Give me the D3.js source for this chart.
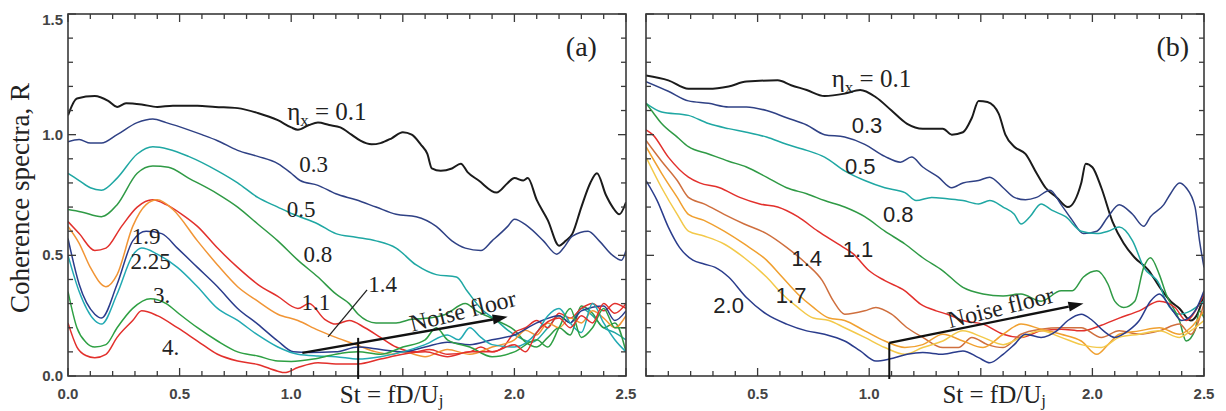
<!DOCTYPE html>
<html>
<head>
<meta charset="utf-8">
<script src="https://cdn.jsdelivr.net/npm/d3@7"></script>
<style>
body { margin: 0; background: #fff; }
</style>
</head>
<body>
<svg id="chart" width="1226" height="411"></svg>
<script>
// tick values and labels
const xMajor = [0, 0.5, 1.0, 1.5, 2.0, 2.5];
const xLabelsA = ['0.0', '0.5', '1.0', '', '2.0', '2.5'];
const xLabelsB = ['', '0.5', '1.0', '', '2.0', '2.5'];
const yMajor = [0, 0.5, 1.0, 1.5];
const yLabels = ['0.0', '0.5', '1.0', '1.5'];

// panel (a) curves, [St, R]
const a01 = [[0,1.08],[0.04,1.15],[0.12,1.16],[0.18,1.14],[0.22,1.115],[0.26,1.13],[0.33,1.125],[0.4,1.115],[0.47,1.12],[0.58,1.12],[0.66,1.115],[0.76,1.11],[0.85,1.09],[0.94,1.06],[1.0,1.03],[1.03,1.02],[1.08,1.04],[1.12,1.05],[1.17,1.04],[1.22,1.03],[1.27,1.0],[1.31,0.975],[1.36,0.96],[1.4,0.965],[1.45,0.985],[1.5,1.01],[1.54,1.0],[1.58,0.96],[1.61,0.92],[1.63,0.86],[1.67,0.85],[1.72,0.86],[1.76,0.88],[1.79,0.845],[1.84,0.81],[1.92,0.76],[1.97,0.8],[2.0,0.82],[2.04,0.81],[2.06,0.82],[2.1,0.73],[2.15,0.645],[2.2,0.54],[2.23,0.56],[2.26,0.59],[2.3,0.7],[2.34,0.8],[2.37,0.84],[2.41,0.75],[2.44,0.7],[2.47,0.67],[2.5,0.72]];
const a03 = [[0,0.97],[0.05,0.98],[0.1,0.965],[0.15,0.965],[0.22,1.0],[0.31,1.05],[0.38,1.065],[0.44,1.05],[0.54,1.02],[0.6,1.0],[0.67,0.975],[0.76,0.935],[0.85,0.91],[0.94,0.88],[1.0,0.84],[1.04,0.81],[1.12,0.79],[1.2,0.755],[1.29,0.73],[1.38,0.7],[1.47,0.67],[1.56,0.66],[1.65,0.62],[1.72,0.56],[1.78,0.53],[1.85,0.52],[1.9,0.56],[1.97,0.62],[2.0,0.65],[2.06,0.62],[2.13,0.56],[2.19,0.505],[2.22,0.53],[2.26,0.58],[2.33,0.6],[2.38,0.56],[2.44,0.5],[2.48,0.48],[2.5,0.52]];
const a05 = [[0,0.84],[0.05,0.81],[0.1,0.78],[0.15,0.77],[0.22,0.82],[0.31,0.92],[0.38,0.95],[0.45,0.94],[0.54,0.91],[0.67,0.85],[0.76,0.8],[0.85,0.74],[0.94,0.7],[1.01,0.67],[1.12,0.63],[1.2,0.59],[1.29,0.575],[1.38,0.56],[1.47,0.53],[1.56,0.46],[1.65,0.42],[1.74,0.41],[1.79,0.35],[1.85,0.28],[1.92,0.23],[1.97,0.19],[2.02,0.16],[2.08,0.14],[2.15,0.2],[2.2,0.25],[2.25,0.22],[2.3,0.28],[2.35,0.25],[2.4,0.2],[2.45,0.18],[2.5,0.15]];
const a08 = [[0,0.69],[0.06,0.68],[0.15,0.66],[0.22,0.71],[0.31,0.84],[0.38,0.87],[0.45,0.865],[0.54,0.82],[0.67,0.755],[0.76,0.7],[0.85,0.63],[0.94,0.56],[1.03,0.48],[1.12,0.41],[1.2,0.34],[1.26,0.3],[1.3,0.256],[1.38,0.22],[1.47,0.22],[1.54,0.235],[1.62,0.24],[1.69,0.255],[1.78,0.3],[1.83,0.27],[1.92,0.23],[2.0,0.19],[2.05,0.14],[2.1,0.12],[2.15,0.16],[2.2,0.2],[2.25,0.17],[2.3,0.29],[2.35,0.26],[2.4,0.2],[2.45,0.22],[2.5,0.1]];
const a11 = [[0,0.64],[0.05,0.59],[0.12,0.52],[0.17,0.53],[0.24,0.62],[0.31,0.7],[0.38,0.73],[0.44,0.71],[0.51,0.67],[0.58,0.62],[0.67,0.53],[0.76,0.45],[0.85,0.38],[0.94,0.33],[1.03,0.28],[1.08,0.3],[1.15,0.235],[1.2,0.215],[1.26,0.23],[1.33,0.2],[1.4,0.16],[1.47,0.12],[1.55,0.1],[1.62,0.11],[1.7,0.09],[1.8,0.1],[1.85,0.12],[1.9,0.1],[1.95,0.12],[2.0,0.18],[2.05,0.2],[2.1,0.23],[2.15,0.2],[2.2,0.26],[2.25,0.24],[2.3,0.28],[2.35,0.3],[2.4,0.27],[2.45,0.3],[2.5,0.28]];
const a14 = [[0,0.62],[0.05,0.55],[0.1,0.45],[0.17,0.37],[0.22,0.42],[0.29,0.62],[0.35,0.71],[0.4,0.73],[0.47,0.69],[0.58,0.56],[0.67,0.46],[0.76,0.37],[0.85,0.31],[0.94,0.256],[1.03,0.23],[1.12,0.19],[1.2,0.16],[1.29,0.13],[1.38,0.1],[1.45,0.09],[1.5,0.1],[1.6,0.08],[1.7,0.11],[1.8,0.09],[1.9,0.12],[2.0,0.15],[2.05,0.19],[2.1,0.17],[2.15,0.22],[2.2,0.2],[2.25,0.24],[2.3,0.22],[2.35,0.27],[2.4,0.24],[2.45,0.2],[2.5,0.25]];
const a19 = [[0,0.57],[0.05,0.38],[0.12,0.256],[0.15,0.24],[0.22,0.38],[0.29,0.56],[0.35,0.6],[0.42,0.59],[0.49,0.53],[0.58,0.45],[0.67,0.37],[0.76,0.28],[0.85,0.215],[0.94,0.145],[1.01,0.1],[1.08,0.097],[1.2,0.1],[1.3,0.12],[1.4,0.11],[1.5,0.1],[1.6,0.12],[1.7,0.14],[1.8,0.13],[1.9,0.15],[2.0,0.17],[2.1,0.22],[2.2,0.25],[2.25,0.22],[2.3,0.27],[2.4,0.29],[2.45,0.23],[2.5,0.27]];
const a225 = [[0,0.5],[0.05,0.35],[0.12,0.23],[0.15,0.215],[0.22,0.34],[0.29,0.5],[0.33,0.53],[0.4,0.505],[0.49,0.45],[0.58,0.37],[0.67,0.28],[0.76,0.23],[0.85,0.17],[0.94,0.12],[1.03,0.09],[1.12,0.083],[1.2,0.08],[1.3,0.07],[1.4,0.08],[1.5,0.1],[1.6,0.13],[1.7,0.17],[1.75,0.15],[1.8,0.2],[1.85,0.16],[1.9,0.13],[2.0,0.12],[2.1,0.18],[2.15,0.25],[2.2,0.28],[2.25,0.22],[2.3,0.18],[2.35,0.3],[2.4,0.22],[2.45,0.15],[2.5,0.1]];
const a3 = [[0,0.35],[0.04,0.2],[0.08,0.14],[0.12,0.12],[0.17,0.13],[0.22,0.2],[0.29,0.28],[0.37,0.32],[0.44,0.3],[0.5,0.256],[0.58,0.2],[0.67,0.145],[0.76,0.1],[0.85,0.083],[0.94,0.062],[1.0,0.06],[1.1,0.07],[1.2,0.09],[1.3,0.1],[1.4,0.09],[1.5,0.12],[1.6,0.15],[1.65,0.2],[1.7,0.15],[1.8,0.12],[1.9,0.08],[2.0,0.1],[2.1,0.15],[2.15,0.12],[2.2,0.2],[2.25,0.28],[2.3,0.16],[2.35,0.2],[2.4,0.28],[2.45,0.2],[2.5,0.2]];
const a4 = [[0,0.22],[0.04,0.12],[0.08,0.085],[0.12,0.076],[0.17,0.09],[0.22,0.16],[0.29,0.23],[0.33,0.27],[0.4,0.25],[0.49,0.2],[0.58,0.145],[0.67,0.09],[0.76,0.062],[0.85,0.048],[0.94,0.02],[0.97,0.014],[1.03,0.035],[1.12,0.055],[1.2,0.05],[1.3,0.05],[1.4,0.07],[1.5,0.09],[1.6,0.1],[1.7,0.08],[1.8,0.1],[1.9,0.1],[2.0,0.13],[2.05,0.1],[2.1,0.18],[2.2,0.24],[2.25,0.2],[2.3,0.25],[2.35,0.22],[2.4,0.3],[2.45,0.26],[2.5,0.3]];

// panel (b) curves, [St, R]
const b01 = [[0,1.245],[0.1,1.225],[0.19,1.19],[0.28,1.19],[0.37,1.2],[0.45,1.22],[0.59,1.225],[0.65,1.205],[0.72,1.185],[0.8,1.16],[0.89,1.17],[0.96,1.185],[1.03,1.155],[1.1,1.1],[1.17,1.045],[1.24,1.025],[1.33,1.025],[1.37,1.0],[1.42,1.01],[1.46,1.07],[1.49,1.14],[1.53,1.135],[1.58,1.087],[1.61,1.0],[1.65,0.95],[1.7,0.92],[1.75,0.84],[1.79,0.78],[1.84,0.74],[1.89,0.7],[1.95,0.8],[1.97,0.88],[2.0,0.865],[2.04,0.78],[2.09,0.64],[2.14,0.55],[2.19,0.49],[2.25,0.44],[2.3,0.37],[2.35,0.31],[2.39,0.28],[2.44,0.23],[2.47,0.256],[2.5,0.34]];
const b03 = [[0,1.22],[0.1,1.18],[0.19,1.14],[0.28,1.13],[0.37,1.115],[0.45,1.115],[0.54,1.1],[0.63,1.07],[0.72,1.04],[0.8,1.0],[0.89,0.99],[0.98,0.96],[1.07,0.91],[1.14,0.886],[1.19,0.907],[1.24,0.866],[1.31,0.824],[1.37,0.78],[1.42,0.8],[1.49,0.81],[1.54,0.824],[1.6,0.78],[1.65,0.74],[1.7,0.73],[1.75,0.74],[1.81,0.77],[1.86,0.71],[1.91,0.645],[1.96,0.59],[2.02,0.6],[2.07,0.66],[2.12,0.71],[2.18,0.67],[2.23,0.62],[2.26,0.66],[2.32,0.71],[2.35,0.755],[2.39,0.8],[2.42,0.78],[2.46,0.7],[2.48,0.56],[2.5,0.45]];
const b05 = [[0,1.13],[0.07,1.094],[0.19,1.08],[0.28,1.046],[0.37,1.025],[0.45,1.01],[0.54,0.99],[0.63,0.96],[0.72,0.935],[0.8,0.907],[0.89,0.85],[0.98,0.81],[1.07,0.78],[1.16,0.76],[1.21,0.727],[1.28,0.74],[1.35,0.734],[1.42,0.727],[1.49,0.713],[1.54,0.727],[1.6,0.7],[1.65,0.67],[1.68,0.63],[1.72,0.66],[1.77,0.713],[1.82,0.686],[1.88,0.66],[1.95,0.6],[2.02,0.59],[2.07,0.6],[2.12,0.617],[2.18,0.56],[2.23,0.45],[2.3,0.38],[2.33,0.31],[2.39,0.256],[2.44,0.27],[2.5,0.31]];
const b08 = [[0,1.13],[0.03,1.094],[0.07,1.046],[0.14,0.99],[0.19,0.95],[0.28,0.92],[0.37,0.89],[0.45,0.866],[0.54,0.824],[0.63,0.78],[0.72,0.755],[0.8,0.727],[0.89,0.7],[0.98,0.66],[1.07,0.6],[1.16,0.547],[1.24,0.49],[1.33,0.436],[1.42,0.367],[1.51,0.34],[1.6,0.332],[1.68,0.34],[1.77,0.31],[1.86,0.353],[1.91,0.353],[1.96,0.41],[2.02,0.436],[2.07,0.38],[2.1,0.31],[2.14,0.284],[2.19,0.31],[2.23,0.45],[2.26,0.49],[2.3,0.42],[2.33,0.34],[2.39,0.23],[2.42,0.145],[2.46,0.19],[2.48,0.27],[2.5,0.24]];
const b11 = [[0,1.02],[0.03,1.0],[0.1,0.907],[0.19,0.824],[0.24,0.8],[0.33,0.78],[0.42,0.74],[0.51,0.713],[0.59,0.7],[0.68,0.66],[0.77,0.6],[0.86,0.547],[0.93,0.505],[1.0,0.436],[1.07,0.395],[1.16,0.353],[1.23,0.298],[1.3,0.27],[1.35,0.256],[1.42,0.23],[1.51,0.215],[1.6,0.173],[1.68,0.16],[1.77,0.187],[1.86,0.194],[1.95,0.187],[2.04,0.21],[2.12,0.24],[2.21,0.27],[2.3,0.31],[2.37,0.284],[2.42,0.23],[2.47,0.284],[2.5,0.34]];
const b14 = [[0,0.976],[0.07,0.89],[0.14,0.81],[0.19,0.74],[0.26,0.713],[0.35,0.67],[0.44,0.63],[0.54,0.59],[0.63,0.533],[0.72,0.464],[0.79,0.395],[0.84,0.31],[0.89,0.256],[0.98,0.27],[1.03,0.284],[1.1,0.256],[1.17,0.2],[1.24,0.16],[1.33,0.118],[1.4,0.118],[1.46,0.16],[1.53,0.13],[1.6,0.118],[1.68,0.173],[1.77,0.194],[1.86,0.2],[1.95,0.2],[2.04,0.16],[2.12,0.187],[2.21,0.173],[2.3,0.187],[2.39,0.215],[2.44,0.173],[2.5,0.3]];
const b17 = [[0,0.95],[0.07,0.84],[0.14,0.74],[0.19,0.67],[0.26,0.645],[0.35,0.6],[0.44,0.547],[0.54,0.48],[0.61,0.41],[0.68,0.34],[0.75,0.284],[0.82,0.24],[0.89,0.23],[0.98,0.187],[1.07,0.145],[1.16,0.118],[1.24,0.13],[1.33,0.173],[1.42,0.145],[1.51,0.118],[1.6,0.173],[1.68,0.215],[1.77,0.194],[1.86,0.173],[1.95,0.145],[2.02,0.09],[2.07,0.13],[2.12,0.173],[2.21,0.187],[2.3,0.2],[2.39,0.173],[2.44,0.2],[2.5,0.27]];
const b18 = [[0,0.907],[0.07,0.78],[0.14,0.67],[0.19,0.6],[0.26,0.58],[0.35,0.547],[0.44,0.49],[0.54,0.41],[0.61,0.34],[0.68,0.284],[0.75,0.24],[0.82,0.23],[0.89,0.2],[0.98,0.16],[1.07,0.118],[1.16,0.09],[1.24,0.118],[1.33,0.145],[1.42,0.187],[1.51,0.16],[1.6,0.13],[1.68,0.16],[1.77,0.187],[1.86,0.16],[1.95,0.13],[2.04,0.118],[2.12,0.16],[2.21,0.173],[2.3,0.187],[2.39,0.16],[2.44,0.187],[2.5,0.23]];
const b20 = [[0,0.81],[0.05,0.727],[0.1,0.617],[0.15,0.533],[0.21,0.48],[0.26,0.464],[0.31,0.45],[0.37,0.41],[0.45,0.325],[0.54,0.256],[0.63,0.215],[0.72,0.187],[0.8,0.173],[0.89,0.145],[0.96,0.104],[1.03,0.062],[1.09,0.07],[1.17,0.09],[1.24,0.097],[1.33,0.09],[1.42,0.104],[1.49,0.076],[1.54,0.055],[1.6,0.09],[1.65,0.13],[1.7,0.173],[1.77,0.16],[1.84,0.187],[1.89,0.23],[1.95,0.256],[2.0,0.23],[2.05,0.187],[2.1,0.16],[2.16,0.187],[2.21,0.23],[2.26,0.31],[2.3,0.34],[2.35,0.284],[2.4,0.23],[2.46,0.27],[2.5,0.353]];

const seriesA = [
  {d: a01, c: '#1b1b1b', w: 2},
  {d: a03, c: '#2f4185', w: 1.5},
  {d: a05, c: '#1fa7a3', w: 1.5},
  {d: a08, c: '#2f9a45', w: 1.5},
  {d: a11, c: '#e2302c', w: 1.5},
  {d: a14, c: '#f19535', w: 1.5},
  {d: a19, c: '#2a3c8c', w: 1.5},
  {d: a225, c: '#22aab3', w: 1.5},
  {d: a3, c: '#2ea043', w: 1.5},
  {d: a4, c: '#e2302c', w: 1.5}
];
const seriesB = [
  {d: b01, c: '#1b1b1b', w: 2},
  {d: b03, c: '#2f4185', w: 1.5},
  {d: b05, c: '#1fa7a3', w: 1.5},
  {d: b08, c: '#2f9a45', w: 1.5},
  {d: b11, c: '#e2302c', w: 1.5},
  {d: b14, c: '#cf6f3e', w: 1.5},
  {d: b17, c: '#f0a030', w: 1.5},
  {d: b18, c: '#f3c94a', w: 1.5},
  {d: b20, c: '#2a3c8c', w: 1.5}
];

// curve labels: text, St, R
const labelsA = [
  ['0.3', 1.10, 0.88], ['0.5', 1.045, 0.69], ['0.8', 1.12, 0.505], ['1.1', 1.11, 0.305],
  ['1.4', 1.41, 0.38], ['1.9', 0.35, 0.58], ['2.25', 0.37, 0.475], ['3.', 0.42, 0.335], ['4.', 0.46, 0.12]
];
const labelsB = [
  ['0.3', 0.99, 1.04], ['0.5', 0.96, 0.87], ['0.8', 1.13, 0.67], ['1.1', 0.95, 0.525],
  ['1.4', 0.72, 0.49], ['1.7', 0.65, 0.335], ['2.0', 0.37, 0.295]
];
const etaA = [1.16, 1.094];
const etaB = [1.01, 1.23];

// noise floor annotation: arrow start, arrow end, stem top, text centre
const noiseA = {from: [1.05, 0.096], to: [1.97, 0.245], stem: [1.30, 0.158], text: [1.77, 0.266]};
const noiseB = {from: [1.09, 0.137], to: [1.96, 0.30], stem: [1.09, 0.137], text: [1.59, 0.28]};
const leaderA = [[1.34, 0.357], [1.165, 0.162]];

const svg = d3.select('#chart');
const yTop = 14, yBot = 376;
const serif = "'Liberation Serif', 'Times New Roman', serif";
const sans = "'Liberation Sans', Arial, sans-serif";

const panels = [
  {x0: 68, x1: 626, series: seriesA, labels: labelsA, labFont: serif, labSize: 23, eta: etaA,
   xt: xLabelsA, tag: '(a)', tagSt: 2.3, noise: noiseA, leader: leaderA, stTitle: 1.45, id: 'a'},
  {x0: 646, x1: 1204, series: seriesB, labels: labelsB, labFont: sans, labSize: 22, eta: etaB,
   xt: xLabelsB, tag: '(b)', tagSt: 2.36, noise: noiseB, leader: null, stTitle: 1.56, id: 'b'}
];

const y = d3.scaleLinear().domain([0, 1.5]).range([yBot, yTop]);

panels.forEach(p => {
  const x = d3.scaleLinear().domain([0, 2.5]).range([p.x0, p.x1]);
  const g = svg.append('g');

  g.append('clipPath').attr('id', 'clip' + p.id)
    .append('rect').attr('x', p.x0).attr('y', yTop).attr('width', p.x1 - p.x0).attr('height', yBot - yTop);

  const line = d3.line().x(d => x(d[0])).y(d => y(d[1])).curve(d3.curveMonotoneX);
  g.append('g').attr('clip-path', `url(#clip${p.id})`)
    .selectAll('path').data(p.series).join('path')
    .attr('d', s => line(s.d)).attr('fill', 'none')
    .attr('stroke', s => s.c).attr('stroke-width', s => s.w).attr('stroke-linejoin', 'round');

  // frame and ticks
  g.append('rect').attr('x', p.x0).attr('y', yTop).attr('width', p.x1 - p.x0).attr('height', yBot - yTop)
    .attr('fill', 'none').attr('stroke', '#3a3a3a').attr('stroke-width', 1.6);
  const xt = d3.range(0, 26).map(i => i / 10);
  const yt = d3.range(0, 16).map(i => i / 10);
  const isMajor = v => Math.abs(v * 2 - Math.round(v * 2)) < 1e-6;
  const tk = g.append('g').attr('stroke', '#3a3a3a').attr('stroke-width', 1.3);
  xt.forEach(v => {
    const len = isMajor(v) ? 8 : 5;
    tk.append('line').attr('x1', x(v)).attr('x2', x(v)).attr('y1', yBot).attr('y2', yBot - len);
    tk.append('line').attr('x1', x(v)).attr('x2', x(v)).attr('y1', yTop).attr('y2', yTop + len);
  });
  yt.forEach(v => {
    const len = isMajor(v) ? 8 : 5;
    tk.append('line').attr('x1', p.x0).attr('x2', p.x0 + len).attr('y1', y(v)).attr('y2', y(v));
    tk.append('line').attr('x1', p.x1).attr('x2', p.x1 - len).attr('y1', y(v)).attr('y2', y(v));
  });

  // x tick labels
  g.append('g').selectAll('text').data(xMajor).join('text')
    .attr('x', v => x(v)).attr('y', 399).attr('text-anchor', 'middle')
    .attr('font-family', sans).attr('font-size', 15).attr('font-weight', 'bold').attr('fill', '#444')
    .text((v, i) => p.xt[i]);

  // x title
  const st = g.append('text').attr('x', x(p.stTitle)).attr('y', 403).attr('text-anchor', 'middle')
    .attr('font-family', serif).attr('font-size', 25).attr('fill', '#222');
  st.append('tspan').text('St = fD/U');
  st.append('tspan').attr('font-size', 17).attr('dy', 3).text('j');

  // panel tag
  g.append('text').attr('x', x(p.tagSt)).attr('y', 56).attr('text-anchor', 'middle')
    .attr('font-family', serif).attr('font-size', 28).attr('fill', '#222').text(p.tag);

  // eta label
  const et = g.append('text').attr('x', x(p.eta[0])).attr('y', y(p.eta[1]) + 8).attr('text-anchor', 'middle')
    .attr('font-family', serif).attr('font-size', 25).attr('fill', '#222');
  et.append('tspan').text('η');
  et.append('tspan').attr('font-size', 17).attr('dy', 6).text('x');
  et.append('tspan').attr('dy', -6).text(' = 0.1');

  // curve labels
  g.append('g').selectAll('text').data(p.labels).join('text')
    .attr('x', d => x(d[1])).attr('y', d => y(d[2]) + 8).attr('text-anchor', 'middle')
    .attr('font-family', p.labFont).attr('font-size', p.labSize).attr('fill', '#222')
    .text(d => d[0]);

  if (p.leader) {
    g.append('line').attr('x1', x(p.leader[0][0])).attr('y1', y(p.leader[0][1]))
      .attr('x2', x(p.leader[1][0])).attr('y2', y(p.leader[1][1]))
      .attr('stroke', '#222').attr('stroke-width', 1.3);
  }

  // noise floor arrow
  const n = p.noise;
  const x1 = x(n.from[0]), y1 = y(n.from[1]), x2 = x(n.to[0]), y2 = y(n.to[1]);
  const ang = Math.atan2(y2 - y1, x2 - x1);
  const hl = 15, hw = 5;
  const bx = x2 - hl * Math.cos(ang), by = y2 - hl * Math.sin(ang);
  g.append('line').attr('x1', x1).attr('y1', y1).attr('x2', bx).attr('y2', by)
    .attr('stroke', '#111').attr('stroke-width', 2.4);
  g.append('path')
    .attr('d', `M${x2},${y2}L${bx + hw * Math.sin(ang)},${by - hw * Math.cos(ang)}L${bx - hw * Math.sin(ang)},${by + hw * Math.cos(ang)}Z`)
    .attr('fill', '#111');
  g.append('line').attr('x1', x(n.stem[0])).attr('x2', x(n.stem[0]))
    .attr('y1', yBot + 3).attr('y2', y(n.stem[1]))
    .attr('stroke', '#111').attr('stroke-width', 2);
  g.append('text').attr('transform', `translate(${x(n.text[0])},${y(n.text[1])}) rotate(-14)`)
    .attr('text-anchor', 'middle').attr('dy', 7)
    .attr('font-family', serif).attr('font-size', 24).attr('fill', '#222').text('Noise floor');
});

// y axis labels (left panel only)
svg.append('g').selectAll('text').data(yMajor).join('text')
  .attr('x', 63).attr('y', (v, i) => y(v) + 5 + (v === 1.5 ? 6 : 0)).attr('text-anchor', 'end')
  .attr('font-family', sans).attr('font-size', 15).attr('font-weight', 'bold').attr('fill', '#444')
  .text((v, i) => yLabels[i]);

svg.append('text').attr('transform', `translate(29,198) rotate(-90)`)
  .attr('text-anchor', 'middle').attr('font-family', serif).attr('font-size', 27).attr('fill', '#222')
  .text('Coherence spectra, R');
</script>
</body>
</html>
